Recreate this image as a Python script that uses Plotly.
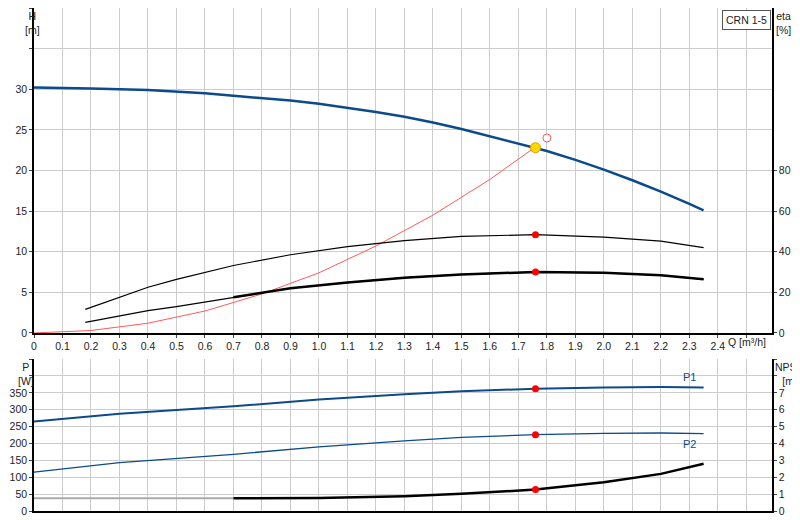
import plotly.graph_objects as go

# Pump curve H(Q)
q_h = [0, 0.2, 0.4, 0.6, 0.7, 0.8, 0.9, 1.0, 1.1, 1.2, 1.3, 1.4, 1.5, 1.6, 1.7, 1.76, 1.8, 1.9, 2.0, 2.1, 2.2, 2.3, 2.35]
h = [30.2, 30.1, 29.9, 29.5, 29.2, 28.9, 28.6, 28.2, 27.7, 27.2, 26.6, 25.9, 25.1, 24.2, 23.3, 22.8, 22.4, 21.3, 20.1, 18.8, 17.4, 15.9, 15.1]

# System curve
q_sys = [0, 0.2, 0.4, 0.6, 0.8, 1.0, 1.2, 1.4, 1.6, 1.76]
h_sys = [0, 0.3, 1.2, 2.7, 4.8, 7.4, 10.7, 14.5, 18.9, 22.9]

# Efficiencies [%]
q_eta = [0.18, 0.3, 0.4, 0.5, 0.7, 0.9, 1.1, 1.3, 1.5, 1.76, 2.0, 2.2, 2.35]
eta1 = [11.6, 17.5, 22.5, 26.4, 33.2, 38.5, 42.5, 45.5, 47.5, 48.4, 47.2, 45.2, 42.0]
eta2 = [5.2, 8.5, 11.0, 13.0, 17.6, 22.0, 24.8, 27.2, 28.8, 30.0, 29.6, 28.4, 26.4]

# Power [W] and NPSH [m]
q_p = [0, 0.3, 0.7, 1.0, 1.3, 1.5, 1.76, 2.0, 2.2, 2.35]
p1 = [265, 288, 310, 330, 346, 355, 362, 366, 367, 366]
p2 = [115, 143, 168, 190, 208, 218, 226, 230, 231, 229]
npsh = [0.75, 0.74, 0.75, 0.77, 0.88, 1.02, 1.27, 1.7, 2.2, 2.8]

q_duty = 1.76
blue = "#0b4a8b"
grid = "#cccccc"
font = dict(family="Liberation Sans, Arial", size=10.5, color="#222")

fig = go.Figure()

fig.add_trace(go.Scatter(x=q_sys, y=h_sys, mode="lines", line=dict(color="#ff5a5a", width=1), xaxis="x", yaxis="y"))
fig.add_trace(go.Scatter(x=q_h, y=h, mode="lines", line=dict(color=blue, width=2.5), xaxis="x", yaxis="y"))
fig.add_trace(go.Scatter(x=q_eta, y=eta1, mode="lines", line=dict(color="black", width=1.2), xaxis="x", yaxis="y2"))
fig.add_trace(go.Scatter(x=q_eta, y=eta2, mode="lines", line=dict(color="black", width=1.2), xaxis="x", yaxis="y2"))
fig.add_trace(go.Scatter(x=q_eta[4:], y=eta2[4:], mode="lines", line=dict(color="black", width=2.5), xaxis="x", yaxis="y2"))
fig.add_trace(go.Scatter(x=[q_duty, q_duty], y=[eta1[9], eta2[9]], mode="markers",
                         marker=dict(color="red", size=7), xaxis="x", yaxis="y2"))
fig.add_trace(go.Scatter(x=[1.8], y=[24.0], mode="markers",
                         marker=dict(color="white", size=8, line=dict(color="#ff5a5a", width=1)), xaxis="x", yaxis="y"))
fig.add_trace(go.Scatter(x=[q_duty], y=[22.8], mode="markers",
                         marker=dict(color="#ffd700", size=10, line=dict(color="#e0a000", width=1)), xaxis="x", yaxis="y"))

fig.add_trace(go.Scatter(x=q_p, y=p1, mode="lines", line=dict(color=blue, width=2), xaxis="x2", yaxis="y3"))
fig.add_trace(go.Scatter(x=q_p, y=p2, mode="lines", line=dict(color=blue, width=1.3), xaxis="x2", yaxis="y3"))
fig.add_trace(go.Scatter(x=q_p[:3], y=npsh[:3], mode="lines", line=dict(color="#aaaaaa", width=2), xaxis="x2", yaxis="y4"))
fig.add_trace(go.Scatter(x=q_p[2:], y=npsh[2:], mode="lines", line=dict(color="black", width=2.5), xaxis="x2", yaxis="y4"))
fig.add_trace(go.Scatter(x=[q_duty, q_duty], y=[p1[6], p2[6]], mode="markers",
                         marker=dict(color="red", size=7), xaxis="x2", yaxis="y3"))
fig.add_trace(go.Scatter(x=[q_duty], y=[npsh[6]], mode="markers",
                         marker=dict(color="red", size=7), xaxis="x2", yaxis="y4"))

xticks = [round(i * 0.1, 1) for i in range(26)]
xtext = ["0"] + ["%.1f" % v for v in xticks[1:25]] + [""]
axis_common = dict(showgrid=True, gridcolor=grid, gridwidth=1, zeroline=False, showline=True, automargin=False,
                   linecolor="black", linewidth=1.5, tickfont=font, ticks="outside", ticklen=3, mirror=False)

fig.update_layout(
    width=800, height=520, showlegend=False,
    paper_bgcolor="white", plot_bgcolor="white",
    margin=dict(l=26, r=36, t=0, b=17),
    font=font,
    xaxis=dict(axis_common, range=[0, 2.59], tickvals=xticks, ticktext=xtext, domain=[0, 1], anchor="y"),
    yaxis=dict(axis_common, range=[0, 40], tickvals=[0, 5, 10, 15, 20, 25, 30, 35, 40],
               ticktext=["0", "5", "10", "15", "20", "25", "30", "", ""], domain=[0.354, 1]),
    yaxis2=dict(axis_common, range=[0, 160], overlaying="y", side="right", showgrid=False,
                tickvals=[0, 20, 40, 60, 80], anchor="x"),
    xaxis2=dict(axis_common, range=[0, 2.59], tickvals=xticks, showticklabels=False, anchor="y3", ticks=""),
    yaxis3=dict(axis_common, range=[0, 450], tickvals=list(range(0, 451, 50)),
                ticktext=["0", "50", "100", "150", "200", "250", "300", "350", "", ""], domain=[0, 0.302], anchor="x2"),
    yaxis4=dict(axis_common, range=[0, 9], overlaying="y3", side="right", showgrid=False,
                tickvals=list(range(10)), ticktext=[str(i) for i in range(8)] + ["", ""], anchor="x2"),
)

ann = [
    dict(text="H<br>[m]", x=-0.002, y=1.0, xanchor="center", yanchor="top"),
    dict(text="eta<br>[%]", x=1.003, y=1.0, xanchor="left", yanchor="top"),
    dict(text="Q [m³/h]", x=2.43, xref="x", y=0.335, xanchor="left", yanchor="middle"),
    dict(text="P<br>[W]", x=-0.025, y=0.302, xanchor="left", yanchor="top"),
    dict(text="NPSH<br>[m]", x=1.002, y=0.302, xanchor="left", yanchor="top"),
]
for a in ann:
    a.setdefault("xref", "paper")
    fig.add_annotation(a, yref="paper", showarrow=False, font=font, align="center")
fig.add_annotation(text="P1", x=2.3, y=p1[-1] + 6, xref="x2", yref="y3", yanchor="bottom", showarrow=False,
                   font=dict(family="Liberation Sans, Arial", size=11, color=blue))
fig.add_annotation(text="P2", x=2.3, y=p2[-1] - 6, xref="x2", yref="y3", yanchor="top", showarrow=False,
                   font=dict(family="Liberation Sans, Arial", size=11, color=blue))
fig.add_annotation(text="CRN 1-5", x=0.998, y=0.997, xref="paper", yref="paper", xanchor="right", yanchor="top",
                   showarrow=False, font=font, bgcolor="white", bordercolor="#555", borderwidth=1, borderpad=3)

fig.write_html("out.html")
